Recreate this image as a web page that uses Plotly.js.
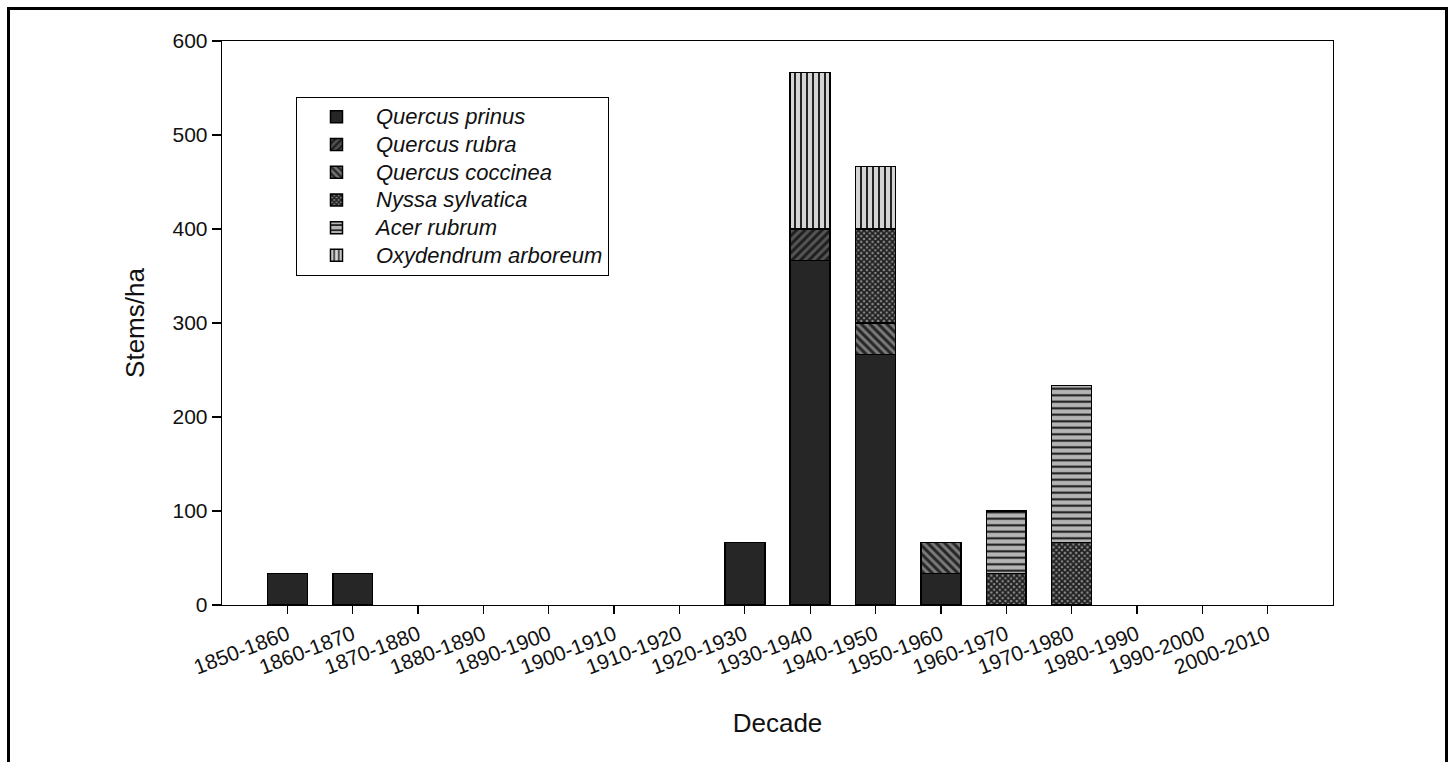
<!DOCTYPE html>
<html>
<head>
<meta charset="utf-8">
<script src="https://cdn.plot.ly/plotly-3.0.1.min.js"></script>
<style>
  html, body { margin: 0; padding: 0; background: #fff; }
  #wrap { position: relative; width: 1452px; height: 762px; overflow: hidden; }
  #frame { position: absolute; left: 7px; top: 7px; width: 1441px; height: 800px;
           border: 3px solid #000; box-sizing: border-box; pointer-events: none; z-index: 5; }
  #chart { position: absolute; left: 0; top: 0; width: 1452px; height: 762px; }
</style>
</head>
<body>
<div id="wrap">
  <div id="chart"></div>
  <div id="frame"></div>
</div>
<script>
const decades = ["1850-1860","1860-1870","1870-1880","1880-1890","1890-1900","1900-1910",
                 "1910-1920","1920-1930","1930-1940","1940-1950","1950-1960","1960-1970",
                 "1970-1980","1980-1990","1990-2000","2000-2010"];
const quercusPrinus   = [33.3, 33.3, null, null, null, null, null, 66.7, 366.7, 266.7, 33.3, null, null, null, null, null];
const quercusRubra    = [null, null, null, null, null, null, null, null, 33.3, null, null, null, null, null, null, null];
const quercusCoccinea = [null, null, null, null, null, null, null, null, null, 33.3, 33.3, null, null, null, null, null];
const nyssaSylvatica  = [null, null, null, null, null, null, null, null, null, 100, null, 33.3, 66.7, null, null, null];
const acerRubrum      = [null, null, null, null, null, null, null, null, null, null, null, 66.7, 166.7, null, null, null];
const oxydendrum      = [null, null, null, null, null, null, null, null, 166.7, 66.7, null, null, null, null, null, null];
const seriesNames = ["Quercus prinus", "Quercus rubra", "Quercus coccinea",
                     "Nyssa sylvatica", "Acer rubrum", "Oxydendrum arboreum"];
const yTicks = [0, 100, 200, 300, 400, 500, 600];

const font = "Liberation Sans, Arial, Helvetica, sans-serif";
const edge = {color: "#000", width: 1.5};

function tr(i, y, color, pattern) {
  const marker = {color: color, line: edge};
  if (pattern) marker.pattern = pattern;
  return {type: "bar",
          name: "<span style='font-size:22px'>" + seriesNames[i] + "</span>",
          x: decades, y: y, marker: marker, width: 0.61,
          hovertemplate: seriesNames[i] + ": %{y}<extra></extra>"};
}

const data = [
  tr(0, quercusPrinus, "#262626"),
  tr(1, quercusRubra, "#333333",
     {shape: "/", bgcolor: "#555555", fgcolor: "#1e1e1e", size: 6, solidity: 0.5}),
  tr(2, quercusCoccinea, "#555555",
     {shape: "\\", bgcolor: "#7a7a7a", fgcolor: "#262626", size: 6, solidity: 0.5}),
  tr(3, nyssaSylvatica, "#3a3a3a",
     {shape: "x", bgcolor: "#8c8c8c", fgcolor: "#1e1e1e", size: 4, solidity: 0.7}),
  tr(4, acerRubrum, "#b0b0b0",
     {shape: "-", bgcolor: "#b4b4b4", fgcolor: "#111", size: 6.5, solidity: 0.3}),
  tr(5, oxydendrum, "#d2d2d2",
     {shape: "|", bgcolor: "#d4d4d4", fgcolor: "#111", size: 6, solidity: 0.3})
];

const layout = {
  width: 1452, height: 762,
  margin: {l: 222, r: 119, t: 41, b: 157},
  paper_bgcolor: "#fff", plot_bgcolor: "#fff",
  barmode: "stack",
  font: {family: font, color: "#111", size: 21},
  showlegend: true,
  legend: {
    x: 0.0666, y: 0.9007, xanchor: "left", yanchor: "top",
    bgcolor: "#fff", bordercolor: "#000", borderwidth: 1,
    traceorder: "normal",
    font: {family: font, size: 19, color: "#111", style: "italic"},
    itemwidth: 69
  },
  xaxis: {
    type: "category", range: [-1, 16],
    showline: true, linecolor: "#000", linewidth: 1.3, mirror: true,
    ticks: "outside", ticklen: 8, tickcolor: "#000", tickwidth: 1.3,
    tickangle: -21, tickfont: {family: font, size: 21, color: "#111"},
    showgrid: false, zeroline: false, automargin: false,
    title: {text: "Decade", font: {family: font, size: 26, color: "#111"}, standoff: 36}
  },
  yaxis: {
    range: [0, 600], tickvals: yTicks,
    showline: true, linecolor: "#000", linewidth: 1.3, mirror: true,
    ticks: "outside", ticklen: 9, tickcolor: "#000", tickwidth: 1.3,
    tickfont: {family: font, size: 21, color: "#111"},
    showgrid: false, zeroline: false, automargin: false,
    title: {text: "Stems/ha", font: {family: font, size: 26, color: "#111"}, standoff: 20}
  }
};

Plotly.newPlot("chart", data, layout, {displayModeBar: false, staticPlot: true});
</script>
</body>
</html>
